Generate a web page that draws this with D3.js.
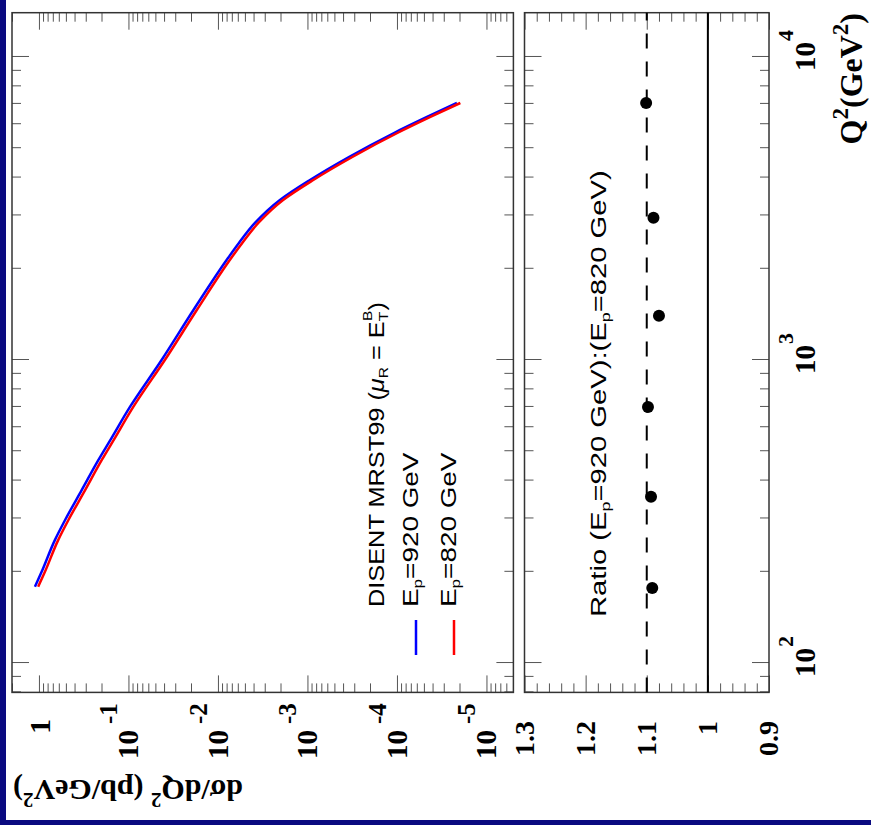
<!DOCTYPE html>
<html><head><meta charset="utf-8">
<script src="https://cdn.jsdelivr.net/npm/d3@7"></script>
<style>body{margin:0;background:#fff;} svg{display:block}</style>
</head><body>
<svg id="c" width="871" height="825"></svg>
<script>
// ---------- data ----------
const q2Curve   = [178.6, 200, 255, 296, 372, 468, 545, 700, 1000, 1462, 2138, 2433, 2833, 3374, 3928, 4677, 5612, 6339, 7051];
const sigma920  = [1.108, 0.933, 0.662, 0.512, 0.333, 0.2163, 0.1589, 0.0962, 0.0426, 0.01878, 0.0080, 0.00583, 0.00386, 0.00203, 0.000937, 0.000344, 0.000108, 4.62e-5, 2.14e-5];
const sigma820  = [1.02, 0.857, 0.608, 0.470, 0.305, 0.1984, 0.1458, 0.0883, 0.0392, 0.01723, 0.00737, 0.00535, 0.00354, 0.00187, 0.00086, 0.000315, 0.0000990, 4.23e-5, 1.96e-5];
const q2Ratio     = [177, 354, 700, 1400, 2950, 7050];
const ratioValues = [1.091, 1.093, 1.098, 1.080, 1.089, 1.101];
const q2Major = [100, 1000, 10000];
const q2TickLabels = [["10","2"],["10","3"],["10","4"]];
const sigmaMajor = [1, 0.1, 0.01, 0.001, 1e-4, 1e-5];
const sigmaTickLabels = [["1",""],["10","-1"],["10","-2"],["10","-3"],["10","-4"],["10","-5"]];
const ratioMajor = [1.3, 1.2, 1.1, 1.0, 0.9];
const ratioTickLabels = ["1.3","1.2","1.1","1","0.9"];
const seriesNames = ["920","820"];
const seriesColors = ["#0000ff","#ff0000"];

// ---------- layout (chart drawn in its own orientation, then turned) ----------
const svg = d3.select("#c");
svg.append("rect").attr("width",871).attr("height",825).attr("fill","#fff");
const g = svg.append("g").attr("transform","translate(0,825) rotate(-90)");

const x  = d3.scaleLog().domain([80, 14000]).range([132.6, 812.3]);
const yS = d3.scaleLog().domain([2, 5e-6]).range([12, 513.4]);
const yR = d3.scaleLinear().domain([1.3, 0.9]).range([524.5, 769]);

const serif = "'Liberation Serif','Times New Roman',serif";
const sans  = "'Liberation Sans',Arial,Helvetica,sans-serif";

// minor ticks
const q2Minor = [];
[10,100,1000].forEach(d => { for (let k=2;k<=9;k++){ const v=k*d; if (v>=80 && v<=14000 && !q2Major.includes(v)) q2Minor.push(v);} });
const sMinor = [];
[1e-6,1e-5,1e-4,1e-3,1e-2,1e-1,1].forEach(d => { for (let k=2;k<=9;k++){ const v=k*d; if (v>=5e-6 && v<=2) sMinor.push(v);} });
const rMinor = d3.range(0.92, 1.3, 0.02).map(v => +v.toFixed(2)).filter(v => Math.abs(v*10 - Math.round(v*10))>1e-6);

function ticks(axisGen, scale, vals, size, tr){
  const a = g.append("g").attr("transform", tr)
    .call(axisGen(scale).tickValues(vals).tickSize(size).tickFormat(""));
  a.select(".domain").remove();
  a.selectAll("line").attr("stroke","#555").attr("stroke-width",1);
}
const MJ=-17, MN=-9;
[[d3.axisTop,12],[d3.axisBottom,513.4],[d3.axisTop,524.5],[d3.axisBottom,769]].forEach(([ax,yy])=>{
  ticks(ax, x, q2Major, MJ, `translate(0,${yy})`);
  ticks(ax, x, q2Minor, MN, `translate(0,${yy})`);
});
[[d3.axisLeft,132.6],[d3.axisRight,812.3]].forEach(([ax,xx])=>{
  ticks(ax, yS, sigmaMajor, MJ, `translate(${xx},0)`);
  ticks(ax, yS, sMinor, MN, `translate(${xx},0)`);
  ticks(ax, yR, ratioMajor, MJ, `translate(${xx},0)`);
  ticks(ax, yR, rMinor, MN, `translate(${xx},0)`);
});

// frames
g.append("rect").attr("x",132.6).attr("y",12).attr("width",812.3-132.6).attr("height",513.4-12)
  .attr("fill","none").attr("stroke","#333").attr("stroke-width",1.5);
g.append("rect").attr("x",132.6).attr("y",524.5).attr("width",812.3-132.6).attr("height",769-524.5)
  .attr("fill","none").attr("stroke","#333").attr("stroke-width",1.5);

// curves
const line = d3.line().curve(d3.curveMonotoneX).x(d=>x(d[0])).y(d=>yS(d[1]));
[sigma920, sigma820].forEach((s,i)=>{
  g.append("path").datum(q2Curve.map((q,j)=>[q,s[j]]))
    .attr("d", line).attr("fill","none").attr("stroke",seriesColors[i]).attr("stroke-width",2.5);
});

// ratio panel
g.append("line").attr("x1",132.6).attr("x2",812.3).attr("y1",yR(1.0)).attr("y2",yR(1.0))
  .attr("stroke","#000").attr("stroke-width",2);
g.append("line").attr("x1",132.6).attr("x2",812.3).attr("y1",yR(1.1)).attr("y2",yR(1.1))
  .attr("stroke","#000").attr("stroke-width",2).attr("stroke-dasharray","15,13");
g.selectAll("circle.pt").data(q2Ratio.map((q,i)=>[q,ratioValues[i]])).enter().append("circle")
  .attr("cx",d=>x(d[0])).attr("cy",d=>yR(d[1])).attr("r",6).attr("fill","#000");

// tick labels
sigmaMajor.forEach((v,i)=>{
  const [b,e] = sigmaTickLabels[i];
  if (!e){
    g.append("text").attr("x",106).attr("y",yS(v)+11).attr("text-anchor","end")
      .attr("font-family",serif).attr("font-weight","bold").attr("font-size",30).text(b);
  } else {
    const t = g.append("text").attr("x",66).attr("y",yS(v)+10)
      .attr("font-family",serif).attr("font-weight","bold").attr("font-size",29);
    t.append("tspan").text(b);
    t.append("tspan").attr("dx",6).attr("dy",-21).attr("font-size",25).text(e);
  }
});
ratioMajor.forEach((v,i)=>{
  g.append("text").attr("x",104).attr("y",yR(v)+9).attr("text-anchor","end")
    .attr("font-family",serif).attr("font-weight","bold").attr("font-size",28).text(ratioTickLabels[i]);
});
q2Major.forEach((v,i)=>{
  const [b,e] = q2TickLabels[i];
  const t = g.append("text").attr("x",x(v)-14).attr("y",815)
    .attr("font-family",serif).attr("font-weight","bold").attr("font-size",29);
  t.append("tspan").text(b);
  t.append("tspan").attr("dx",1).attr("dy",-22).attr("font-size",22).text(e);
});

function fit(sel, x0, w){
  const bb = sel.node().getBBox();
  const s = w / bb.width;
  sel.attr("transform", `translate(${x0},0) scale(${s},1) translate(${-x0},0)`);
}

// axis titles
const tq = g.append("text").attr("x",812).attr("y",862).attr("text-anchor","end")
  .attr("font-family",serif).attr("font-weight","bold").attr("font-size",32);
tq.append("tspan").text("Q");
tq.append("tspan").attr("dy",-14).attr("font-size",23).text("2");
tq.append("tspan").attr("dy",14).text("(GeV");
tq.append("tspan").attr("dy",-14).attr("font-size",23).text("2");
tq.append("tspan").attr("dy",14).text(")");

const ts = g.append("text").attr("transform","translate(45,13) rotate(-90)").attr("text-anchor","end")
  .attr("font-family",serif).attr("font-weight","bold").attr("font-size",30);
ts.append("tspan").text("dσ/dQ");
ts.append("tspan").attr("dy",-13).attr("font-size",21).text("2");
ts.append("tspan").attr("dy",13).text(" (pb/GeV");
ts.append("tspan").attr("dy",-13).attr("font-size",21).text("2");
ts.append("tspan").attr("dy",13).text(")");

// legend
const fs = 22, fsub = 13.5;
const l1g = g.append("g");
const l1 = l1g.append("text").attr("x",218).attr("y",384).attr("font-family",sans).attr("font-size",fs);
l1.append("tspan").text("DISENT MRST99 (");
l1.append("tspan").attr("font-style","italic").text("μ");
l1.append("tspan").attr("dy",4).attr("font-size",fsub).text("R");
l1.append("tspan").attr("dy",-4).text(" = E");
l1.append("tspan").attr("dy",4).attr("font-size",fsub).text("T");
l1.append("tspan").attr("dx",-8).attr("dy",-16).attr("font-size",fsub).text("B");
l1.append("tspan").attr("dy",12).text(")");
fit(l1g, 218, 305);

[["920",418,0],["820",456,1]].forEach(([e,yy,i])=>{
  const gg = g.append("g");
  const t = gg.append("text").attr("x",218).attr("y",yy).attr("font-family",sans).attr("font-size",fs);
  t.append("tspan").text("E");
  t.append("tspan").attr("dy",4).attr("font-size",fsub).text("p");
  t.append("tspan").attr("dy",-4).text("=" + e + " GeV");
  fit(gg, 218, 155);
  g.append("line").attr("x1",170).attr("x2",205).attr("y1",yy-2).attr("y2",yy-2)
    .attr("stroke",seriesColors[i]).attr("stroke-width",2.5);
});

const rg = g.append("g");
const rt = rg.append("text").attr("x",208).attr("y",606).attr("font-family",sans).attr("font-size",fs);
rt.append("tspan").text("Ratio (E");
rt.append("tspan").attr("dy",4).attr("font-size",fsub).text("p");
rt.append("tspan").attr("dy",-4).text("=920 GeV):(E");
rt.append("tspan").attr("dy",4).attr("font-size",fsub).text("p");
rt.append("tspan").attr("dy",-4).text("=820 GeV)");
fit(rg, 208, 447);

// slide border
svg.append("rect").attr("x",0).attr("y",0).attr("width",6).attr("height",825).attr("fill","#0a0a80");
svg.append("rect").attr("x",0).attr("y",820).attr("width",871).attr("height",5).attr("fill","#0a0a80");
</script>
</body></html>
